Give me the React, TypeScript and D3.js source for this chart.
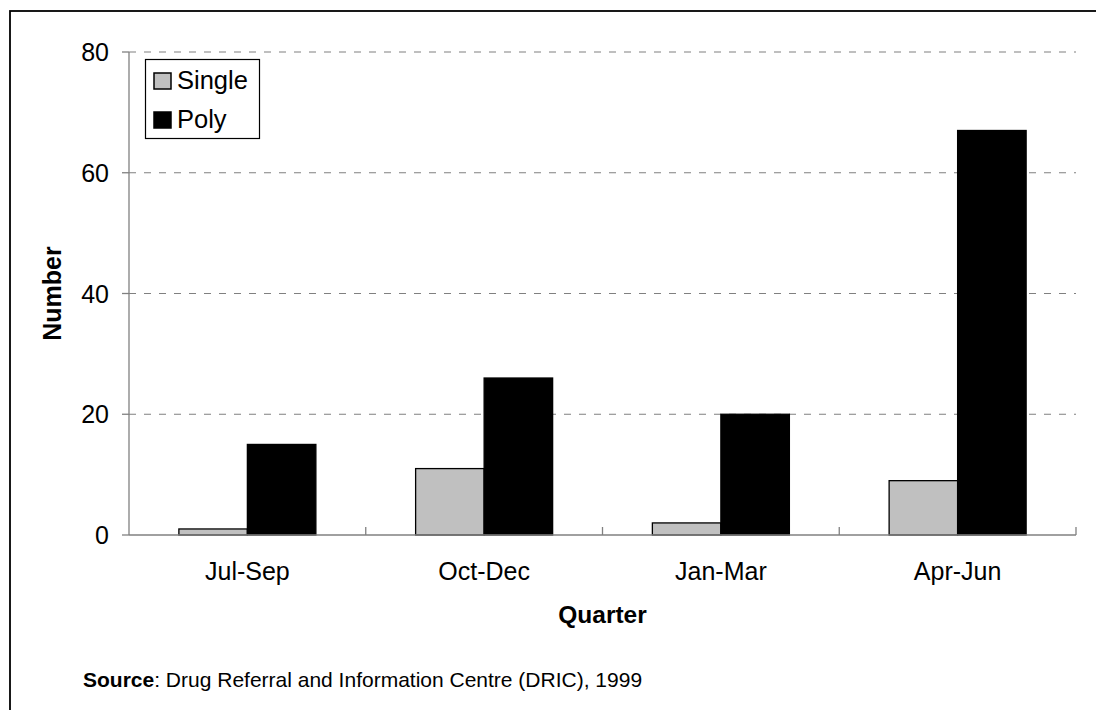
import React from "react";
import * as d3 from "d3";

const categories = ["Jul-Sep", "Oct-Dec", "Jan-Mar", "Apr-Jun"];
const seriesNames = ["Single", "Poly"];
const singleValues = [1, 11, 2, 9];
const polyValues = [15, 26, 20, 67];
const yTicks = [0, 20, 40, 60, 80];
const seriesColors = ["#C0C0C0", "#000000"];

const W = 1096;
const H = 710;
const plot = { left: 129, right: 1076, top: 52, bottom: 535 };
const FONT = "Arial, 'Liberation Sans', sans-serif";

export default function App() {
  const x = d3.scaleBand<string>().domain(categories).range([plot.left, plot.right]).paddingInner(0).paddingOuter(0);
  const inner = d3.scaleBand<string>().domain(seriesNames).range([0, x.bandwidth()]).paddingInner(0).paddingOuter(0.728);
  const y = d3.scaleLinear().domain([0, 80]).range([plot.bottom, plot.top]);
  const values = [singleValues, polyValues];
  const boundaries = categories.map((c) => (x(c) as number) + x.bandwidth());

  return (
    <svg width={W} height={H} style={{ position: "absolute", left: 0, top: 0, background: "#fff" }} fontFamily={FONT}>
      <rect x={0} y={0} width={W} height={H} fill="#fff" />
      {/* frame */}
      <rect x={10} y={11} width={W + 20} height={H + 20} fill="none" stroke="#000" strokeWidth={1.8} />
      {/* grid */}
      {yTicks.filter((t) => t > 0).map((t) => (
        <line key={"g" + t} x1={plot.left} x2={plot.right} y1={y(t)} y2={y(t)} stroke="#808080" strokeWidth={1.2} strokeDasharray="7,8" />
      ))}
      {/* bars */}
      {values.map((vals, si) =>
        vals.map((v, ci) => {
          const bx = (x(categories[ci]) as number) + (inner(seriesNames[si]) as number);
          return (
            <rect key={si + "-" + ci} x={bx} y={y(v)} width={inner.bandwidth()} height={y(0) - y(v)} fill={seriesColors[si]} stroke="#000" strokeWidth={1.3} />
          );
        })
      )}
      {/* y axis */}
      <line x1={plot.left} x2={plot.left} y1={plot.top} y2={plot.bottom} stroke="#808080" strokeWidth={1.3} />
      {yTicks.map((t) => (
        <g key={"t" + t}>
          <line x1={plot.left - 7} x2={plot.left} y1={y(t)} y2={y(t)} stroke="#808080" strokeWidth={1.3} />
          <text x={109} y={y(t) + 9} textAnchor="end" fontSize={25} fill="#000">{t}</text>
        </g>
      ))}
      {/* x axis */}
      <line x1={plot.left} x2={plot.right} y1={plot.bottom} y2={plot.bottom} stroke="#808080" strokeWidth={1.3} />
      {boundaries.map((b, i) => (
        <line key={"xb" + i} x1={b} x2={b} y1={plot.bottom - 8} y2={plot.bottom} stroke="#808080" strokeWidth={1.3} />
      ))}
      {categories.map((c) => (
        <text key={c} x={(x(c) as number) + x.bandwidth() / 2} y={580} textAnchor="middle" fontSize={25} fill="#000">{c}</text>
      ))}
      {/* axis titles */}
      <text x={(plot.left + plot.right) / 2} y={623} textAnchor="middle" fontSize={24.5} fontWeight="bold">Quarter</text>
      <text transform={`translate(61,${(plot.top + plot.bottom) / 2}) rotate(-90)`} textAnchor="middle" fontSize={25} fontWeight="bold">Number</text>
      {/* legend */}
      <rect x={145.5} y={59.5} width={114} height={79} fill="#fff" stroke="#000" strokeWidth={1.2} />
      {seriesNames.map((s, i) => (
        <g key={s}>
          <rect x={154} y={73 + i * 39} width={17} height={16} fill={seriesColors[i]} stroke="#000" strokeWidth={1.5} />
          <text x={177} y={89 + i * 39} fontSize={25.5}>{s}</text>
        </g>
      ))}
      {/* source */}
      <text x={83} y={687} fontSize={21}>
        <tspan fontWeight="bold">Source</tspan>: Drug Referral and Information Centre (DRIC), 1999
      </text>
    </svg>
  );
}
